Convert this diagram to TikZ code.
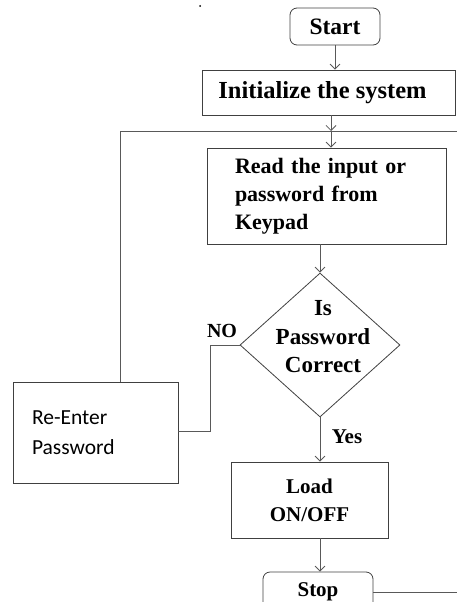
\documentclass[tikz,border=0pt]{standalone}
\usepackage{fontspec}
\setmainfont{Liberation Serif}
\newfontfamily\carl{Carlito}
\usetikzlibrary{shapes.geometric,arrows.meta}
\tikzset{
  box/.style={draw=black!75, line width=0.8pt, rectangle, inner sep=0pt, align=center,
    font=\bfseries\fontsize{21}{28}\selectfont},
  term/.style={box, rounded corners=7pt},
  lbl/.style={inner sep=0pt, font=\bfseries\fontsize{20}{24}\selectfont},
  conn/.style={draw=black!65, line width=0.8pt},
  arr/.style={conn, -{Straight Barb[length=5pt,width=10pt]}},
}
\begin{document}
\begin{tikzpicture}[x=1pt,y=-1pt]
\useasboundingbox (0,0) rectangle (457,602);
\fill (200,6) circle (1pt);
\node[term, minimum width=90pt, minimum height=37pt, font=\bfseries\fontsize{23.5}{28}\selectfont] (start) at (335,26.5) {Start};
\node[box, minimum width=253pt, minimum height=45pt, font=\bfseries\fontsize{24.5}{28}\selectfont] (init) at (328.5,92.5) {Initialize the system\hspace*{12pt}};
\node[box, minimum width=239pt, minimum height=96pt, text width=183pt, inner xsep=28pt, align=left, font=\bfseries\fontsize{22}{28}\selectfont] (read) at (326.5,196) {Read the input or\\password from\\Keypad};
\node[draw=black!75, line width=0.8pt, diamond, minimum width=160pt, minimum height=144pt, inner sep=0pt] (dec) at (320,345) {};
\node[lbl, align=center, font=\bfseries\fontsize{23}{28.5}\selectfont] (dectext) at (323,337) {Is\\Password\\Correct};
\node[box, minimum width=165pt, minimum height=101pt, text width=127pt, inner xsep=19pt, align=left, font=\carl\fontsize{21.5}{30}\selectfont] (reenter) at (95.5,432.5) {Re-Enter\\Password};
\node[box, minimum width=157pt, minimum height=76pt] (load) at (309.5,500) {Load\\ON/OFF};
\node[term, minimum width=110pt, minimum height=40pt] (stop) at (318,592) {Stop};
\node[lbl] (no) at (222,331) {NO};
\node[lbl, font=\bfseries\fontsize{21}{24}\selectfont] (yes) at (347,437) {Yes};
\coordinate (j) at (331,131);
\coordinate (lp) at (120,131);
\coordinate (rp) at (457,131);
\coordinate (n1) at (210,431);
\coordinate (send) at (457,592);
\draw[arr] (start.south -| start) -- (init.north -| start);
\draw[arr] (init.south -| j) -- (j);
\draw[arr] (j) -- (j |- read.north);
\draw[conn] (reenter.north -| lp) -- (lp) -- (j);
\draw[conn] (rp) -- (j);
\draw[arr] (read.south -| dec) -- (dec.north);
\draw[conn] (dec.west) -| (n1) -- (n1 -| reenter.east);
\draw[arr] (dec.south) -- (dec.south |- load.north);
\draw[arr] (load.south -| dec) -- (dec |- stop.north);
\draw[conn] (stop.east) -- (send);
\end{tikzpicture}
\end{document}
